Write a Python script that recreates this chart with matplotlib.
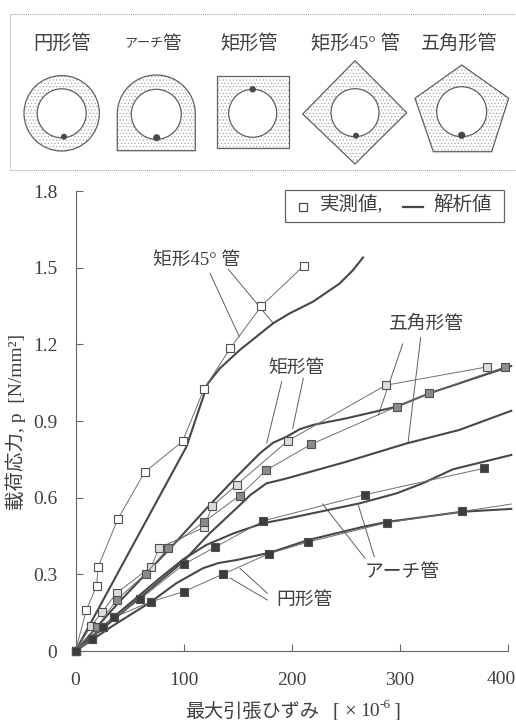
import matplotlib
matplotlib.use('Agg')
import numpy as np
import matplotlib.pyplot as plt
from matplotlib.patches import Circle, Polygon, Rectangle

plt.rcParams['font.family'] = ['Liberation Serif', 'Noto Sans CJK JP']
plt.rcParams['hatch.linewidth'] = 0.5

INK = '#404040'

# 実測値 (測定点)
rect45_x = [0, 10, 19.5, 21, 39, 64, 99, 118.7, 143, 172, 211]
rect45_y = [0, 0.16, 0.255, 0.33, 0.515, 0.70, 0.82, 1.024, 1.184, 1.35, 1.507]
rect_x = [0, 14.4, 24.8, 38, 70, 77.4, 119, 126.4, 149, 196.6, 287, 381]
rect_y = [0, 0.098, 0.153, 0.227, 0.33, 0.403, 0.484, 0.567, 0.65, 0.823, 1.04, 1.112]
penta_x = [0, 20, 38, 65, 85.8, 119, 151.7, 176.6, 218, 297, 327, 397.4]
penta_y = [0, 0.095, 0.2, 0.302, 0.403, 0.506, 0.608, 0.708, 0.809, 0.956, 1.008, 1.112]
arch_x = [0, 15, 25, 35.8, 59.6, 100, 129, 173.5, 268, 378]
arch_y = [0, 0.047, 0.095, 0.132, 0.202, 0.339, 0.406, 0.509, 0.612, 0.715]
circ_x = [0, 15, 25, 35.8, 69.8, 100, 136, 179, 214.8, 287.8, 357.7]
circ_y = [0, 0.047, 0.095, 0.132, 0.193, 0.232, 0.30, 0.381, 0.426, 0.502, 0.546]
circ_end_x = [357.7, 403]
circ_end_y = [0.546, 0.575]

# 解析値 (曲線)
rect45_ax = [0, 50, 102.7, 113, 122.4, 133.5, 152, 182.7, 198, 219.7, 244.3, 256.6, 265.9]
rect45_ay = [0, 0.39, 0.80, 0.93, 1.047, 1.106, 1.178, 1.282, 1.321, 1.367, 1.438, 1.49, 1.54]
rect_ax = [0, 40, 90.4, 124, 149, 170.4, 182.7, 195, 207.4, 220, 250, 297, 327, 403]
rect_ay = [0, 0.19, 0.415, 0.571, 0.682, 0.773, 0.815, 0.838, 0.868, 0.885, 0.91, 0.956, 1.008, 1.115]
penta_ax = [0, 62.6, 99.6, 124, 152, 161.6, 176.6, 195, 250, 306, 355, 403]
penta_ay = [0, 0.219, 0.35, 0.46, 0.571, 0.61, 0.656, 0.675, 0.74, 0.812, 0.865, 0.94]
arch_ax = [0, 40, 78, 100, 121, 146, 173.5, 198, 263, 297, 321, 349, 403]
arch_ay = [0, 0.15, 0.285, 0.36, 0.415, 0.46, 0.50, 0.52, 0.578, 0.617, 0.656, 0.711, 0.767]
circ_ax = [0, 35, 69, 93.5, 118, 132, 149, 180, 198, 215, 266, 288, 358, 403]
circ_ay = [0, 0.10, 0.19, 0.266, 0.324, 0.344, 0.356, 0.385, 0.41, 0.434, 0.486, 0.505, 0.545, 0.556]

xticks = [0, 100, 200, 300, 400]
xticklabels = ['0', '100', '200', '300', '']
yticks = [0, 0.3, 0.6, 0.9, 1.2, 1.5, 1.8]
yticklabels = ['0', '0.3', '0.6', '0.9', '1.2', '1.5', '1.8']

shape_names = ['円形管', '矩形管', '矩形45° 管', '五角形管']
shape_name_x = [62, 249, 355, 459]

W, H = 516, 720
fig = plt.figure(figsize=(W / 100, H / 100), dpi=100)

# 上の断面図とラベルはピクセル座標の透明な軸に描く
bg = fig.add_axes([0, 0, 1, 1])
bg.set_xlim(0, W)
bg.set_ylim(H, 0)
bg.axis('off')

ax = fig.add_axes([75.5 / W, 1 - 651 / H, 432.5 / W, 460 / H])
ax.patch.set_alpha(0)
ax.set_xlim(0, 400)
ax.set_ylim(0, 1.8)
ax.spines['top'].set_visible(False)
ax.spines['right'].set_visible(False)
ax.spines['left'].set_color('#666666')
ax.spines['bottom'].set_color('#666666')
ax.set_xticks(xticks)
ax.set_xticklabels(xticklabels)
ax.set_yticks(yticks)
ax.set_yticklabels(yticklabels)
ax.tick_params(direction='in', length=5, width=0.8, color='#666666', labelcolor=INK,
               labelsize=14)
ax.tick_params(axis='x', pad=15)
ax.tick_params(axis='y', pad=13)

# 解析値
for xs, ys in [(rect45_ax, rect45_ay), (rect_ax, rect_ay), (penta_ax, penta_ay),
               (arch_ax, arch_ay), (circ_ax, circ_ay)]:
    ax.plot(xs, ys, color='#484848', lw=1.5, clip_on=False, zorder=3)

# 実測値
ax.plot(circ_end_x, circ_end_y, color='#707070', lw=0.7, clip_on=False, zorder=4)
for xs, ys, fc in [(rect45_x, rect45_y, 'white'), (rect_x, rect_y, '#dcdcdc'),
                   (penta_x, penta_y, '#8a8a8a'), (arch_x, arch_y, '#3c3c3c'),
                   (circ_x, circ_y, '#3c3c3c')]:
    ax.plot(xs, ys, color='#707070', lw=0.7, marker='s', ms=5.6, mfc=fc, mec='#505050',
            mew=0.8, clip_on=False, zorder=5)


def outline(patch_cls, *args, **kw):
    # 点描の塗りと輪郭
    bg.add_patch(patch_cls(*args, facecolor='white', edgecolor='#a8a8a8', hatch='.....',
                           lw=0, zorder=2, **kw))
    bg.add_patch(patch_cls(*args, fill=False, edgecolor='#606060', lw=0.9, zorder=3, **kw))


def hole(cx, cy, r, dx, dy, dr):
    bg.add_patch(Circle((cx, cy), r, facecolor='white', edgecolor='#606060', lw=0.9, zorder=4))
    bg.add_patch(Circle((dx, dy), dr, facecolor='#484848', edgecolor='none', zorder=5))


bg.plot([10, 516, 516, 10, 10], [14, 14, 170, 170, 14], color='#9a9a9a', lw=0.7, ls=(0, (1, 1)))

outline(Circle, (61.7, 113.3), 37.7)
hole(61.7, 113.3, 24.5, 64, 136.7, 3)

# アーチ形: 上半分が半円
t = np.linspace(np.pi, 0, 40)
arch_pts = np.column_stack([156.3 + 39 * np.cos(t), 114 - 39 * np.sin(t)])
arch_pts = np.vstack([arch_pts, [[195.3, 150.7], [117.3, 150.7]]])
outline(Polygon, arch_pts, closed=True)
hole(156.3, 114.3, 25, 156.7, 137.7, 3.5)

outline(Rectangle, (216.7, 76), 72.6, 72.3)
hole(252.7, 113.3, 24, 252.7, 89.3, 3.2)

outline(Polygon, [(355, 60.7), (406.7, 112.7), (355, 164), (302.7, 114)], closed=True)
hole(355, 112.7, 24, 356, 135.7, 3)

outline(Polygon, [(461.7, 65), (508.7, 98.3), (491.7, 151.7), (433.3, 151.7), (415, 98.3)],
        closed=True)
hole(461.7, 111.7, 25, 461.7, 135.3, 3.6)

for name, x0 in zip(shape_names, shape_name_x):
    bg.text(x0, 44, name, ha='center', va='center', fontsize=13.8, color=INK)
bg.text(144, 44, 'アーチ', ha='center', va='center', fontsize=9.4, color=INK)
bg.text(172, 44, '管', ha='center', va='center', fontsize=13.4, color=INK)

# 凡例
bg.add_patch(Rectangle((285, 189.5), 219, 32, facecolor='white', edgecolor='#666666', lw=0.9))
bg.plot([303], [206.5], marker='s', ms=5.5, mfc='white', mec='#484848', mew=0.9)
bg.text(320, 205, '実測値,', ha='left', va='center', fontsize=14, color=INK)
bg.plot([402.7, 422.7], [206.5, 206.5], color='#484848', lw=1.6)
bg.text(433, 205, '解析値', ha='left', va='center', fontsize=14, color=INK)

# 引出線
leaders = [((210, 273.3), (239.3, 336.7)), ((228.3, 269.3), (273.3, 323.3)),
           ((281.7, 381.7), (266.7, 443)), ((303.3, 378.3), (292.7, 428.3)),
           ((402.7, 344), (378.3, 415)), ((420.7, 337.3), (408, 443)),
           ((365, 558.3), (322.7, 504)), ((374.3, 556.7), (358.3, 505)),
           ((267.3, 600), (230, 578)), ((267.3, 593.3), (240, 568.3))]
for a, b in leaders:
    bg.plot([a[0], b[0]], [a[1], b[1]], color='#606060', lw=0.7)

bg.text(197, 260, '矩形45° 管', ha='center', va='center', fontsize=13.5, color=INK)
bg.text(296, 368, '矩形管', ha='center', va='center', fontsize=13.5, color=INK)
bg.text(426, 324, '五角形管', ha='center', va='center', fontsize=13.5, color=INK)
bg.text(402, 572, 'アーチ管', ha='center', va='center', fontsize=13.5, color=INK)
bg.text(304, 600, '円形管', ha='center', va='center', fontsize=13.5, color=INK)

# 軸ラベル
bg.text(16, 422, '載荷応力, p  [N/mm²]', rotation=90, ha='center', va='center',
        fontsize=14, color=INK)
bg.text(185, 712, '最大引張ひずみ', ha='left', va='center', fontsize=13.8, color=INK)
bg.text(333, 712, '[', ha='left', va='center', fontsize=15, color=INK)
bg.text(350, 712, '×', ha='center', va='center', fontsize=15, color=INK)
bg.text(370, 712, '10', ha='center', va='center', fontsize=14, color=INK)
bg.text(385, 705, '-6', ha='center', va='center', fontsize=9.5, color=INK)
bg.text(393, 712, ']', ha='left', va='center', fontsize=15, color=INK)
# 右端の目盛ラベルは画面内に収める
bg.text(501, 680, '400', ha='center', va='center', fontsize=14, color=INK)

fig.savefig('out.png', dpi=100)
